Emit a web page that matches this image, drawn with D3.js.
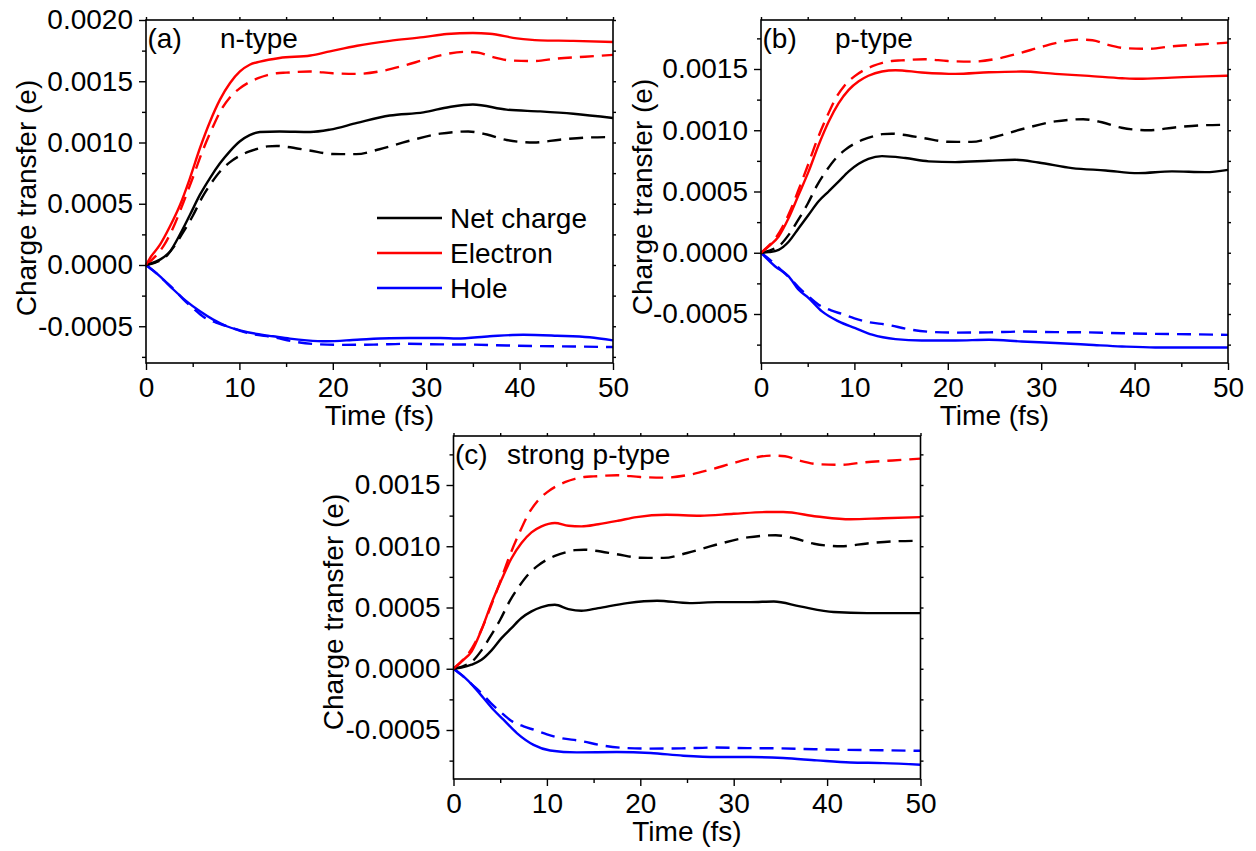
<!DOCTYPE html>
<html>
<head>
<meta charset="utf-8">
<script src="https://cdn.jsdelivr.net/npm/d3@7"></script>
<style>
  html, body { margin: 0; padding: 0; background: #fff; }
  svg { display: block; font-family: "Liberation Sans", Arial, sans-serif; }
</style>
</head>
<body>
<svg id="chart" width="1256" height="851"></svg>
<script>
// ---------- DATA (time in fs, charge transfer in e) ----------
const xMajorTicks = [0, 10, 20, 30, 40, 50];
const xMinorTicks = [5, 15, 25, 35, 45];
const yTicksA = [-0.0005, 0.0000, 0.0005, 0.0010, 0.0015, 0.0020];
const yMinorA = [-0.00075, -0.00025, 0.00025, 0.00075, 0.00125, 0.00175];
const yTicksBC = [-0.0005, 0.0000, 0.0005, 0.0010, 0.0015];
const yMinorBC = [-0.00075, -0.00025, 0.00025, 0.00075, 0.00125, 0.00175];
const legendNames = ["Net charge", "Electron", "Hole"];
const panelLabels = ["(a)", "(b)", "(c)"];
const panelTitles = ["n-type", "p-type", "strong p-type"];

// dashed reference curves (identical in all panels)
const refNet = [[0,0],[1,0.00002],[2,0.00006],[3,0.00015],[4,0.00027],[5,0.0004],[6,0.00055],[7,0.00067],[8,0.00077],[9,0.00084],[10,0.00089],[11,0.000925],[12,0.00095],[13,0.000968],[14,0.000972],[15,0.000965],[17.5,0.000935],[20,0.000906],[22.5,0.000905],[25,0.000945],[28,0.00101],[31.5,0.001072],[34.5,0.00109],[36.5,0.001065],[38.6,0.00102],[41.5,0.001],[44.3,0.001023],[47,0.00104],[50,0.001045]];
const refElectron = [[0,0],[1,0.00007],[2,0.00017],[3,0.00032],[4,0.00051],[5,0.00071],[6,0.00092],[7,0.0011],[8,0.00126],[9,0.00137],[10,0.00144],[11,0.00149],[12,0.001525],[13,0.00155],[14,0.001565],[15,0.00157],[17.5,0.00158],[20,0.001565],[22.5,0.00156],[25,0.00158],[27.5,0.001625],[30,0.00168],[32,0.00172],[34,0.00174],[35.5,0.001735],[37,0.0017],[39,0.00167],[41.5,0.001665],[44,0.001685],[47,0.0017],[50,0.001715]];
const refHole = [[0,0],[1,-0.00006],[2,-0.00013],[3,-0.0002],[4,-0.00028],[5,-0.00035],[6.17,-0.000424],[7.5,-0.00047],[8.67,-0.0005],[10,-0.000535],[11.2,-0.000561],[13.7,-0.00059],[15.8,-0.000625],[18,-0.000645],[20.8,-0.000652],[24.4,-0.00065],[27.9,-0.000643],[31.5,-0.000648],[35.1,-0.00065],[38.65,-0.000657],[42.2,-0.000662],[45.8,-0.000665],[50,-0.00067]];

// (a) n-type, solid
const aNet = [[0,0],[0.43,0.00001],[1.5,0.000044],[2.57,0.00011],[3.64,0.00025],[4.71,0.00041],[5.78,0.000574],[6.85,0.00071],[7.92,0.00083],[9,0.00093],[10.06,0.00101],[11.1,0.00106],[12.2,0.001086],[14.3,0.00109],[17.6,0.001086],[19.7,0.001105],[22.6,0.00116],[26.1,0.00122],[29.7,0.001246],[32.5,0.00129],[35,0.00131],[38.6,0.001268],[42.2,0.001254],[45.75,0.001235],[50,0.0012]];
const aElectron = [[0,0],[0.43,0.000057],[1.5,0.000166],[2.57,0.000316],[3.64,0.00049],[4.71,0.00071],[5.78,0.000955],[6.85,0.00117],[7.92,0.00135],[9,0.001486],[10.06,0.00158],[11.1,0.001635],[12.2,0.00166],[14.3,0.00169],[17.6,0.00171],[19.7,0.001744],[22.6,0.00179],[26.1,0.00183],[29.7,0.00186],[32.2,0.001886],[35,0.001894],[36.8,0.001888],[39.7,0.00185],[42.2,0.001834],[45.75,0.00183],[50,0.00182]];
const aHole = [[0,0],[1.5,-0.0000925],[2.93,-0.0002],[4.35,-0.000297],[5.78,-0.000378],[7.2,-0.000446],[8.64,-0.0005],[10.06,-0.000533],[11.85,-0.000563],[13.6,-0.000582],[15.4,-0.000601],[17.2,-0.000615],[19.3,-0.000623],[22.6,-0.00061],[26.1,-0.000598],[29,-0.000596],[31.5,-0.000596],[33.3,-0.0006],[36.8,-0.000582],[40.4,-0.000569],[44,-0.000577],[47.5,-0.00059],[50,-0.000615]];

// (b) p-type, solid
const bNet = [[0,0],[0.82,0.000005],[1.89,0.000024],[2.96,0.00009],[4.03,0.0002],[5.1,0.00031],[6.17,0.00042],[7.24,0.0005],[8.3,0.00058],[9.39,0.000664],[10.46,0.000726],[11.5,0.000767],[12.95,0.000789],[15.45,0.000773],[17.95,0.000746],[20.8,0.00074],[24.4,0.000751],[27.2,0.000759],[29.7,0.000737],[33.3,0.000691],[36.9,0.000672],[40.4,0.00065],[44,0.000664],[47.6,0.000658],[50,0.000677]];
const bElectron = [[0,0],[0.82,0.000052],[1.89,0.000133],[2.96,0.000283],[4.03,0.000473],[5.1,0.000664],[6.17,0.00088],[7.24,0.00107],[8.3,0.00122],[9.39,0.00133],[10.46,0.0014],[11.5,0.001445],[12.95,0.00148],[14.4,0.00149],[17.2,0.001472],[20.8,0.00146],[24.4,0.001473],[27.9,0.001479],[31.5,0.00146],[35.1,0.001444],[38.65,0.001425],[40.4,0.00142],[44,0.00143],[47.6,0.00144],[50,0.001445]];
const bHole = [[0,0],[1.53,-0.000112],[2.96,-0.000193],[4.03,-0.000302],[5.1,-0.00037],[6.53,-0.000479],[8.3,-0.00056],[10.1,-0.000615],[11.9,-0.000669],[14.4,-0.000705],[17.2,-0.000716],[20.8,-0.000716],[24.4,-0.00071],[27.9,-0.000724],[31.5,-0.000737],[35.1,-0.000751],[38.65,-0.000765],[42.2,-0.000773],[45.8,-0.000773],[50,-0.000773]];

// (c) strong p-type, solid
const cNet = [[0,0],[0.86,0.00001],[1.93,0.000033],[3,0.000073],[4.07,0.00015],[5.14,0.00025],[6.2,0.000332],[7.28,0.000414],[8.35,0.000468],[9.42,0.000503],[10.85,0.000522],[12.3,0.000487],[13.7,0.000473],[15.5,0.000495],[18.6,0.000536],[21.8,0.000555],[25.3,0.000536],[28.2,0.000544],[31.8,0.000544],[34.3,0.000549],[37.1,0.000509],[40.7,0.000463],[44.3,0.000454],[50,0.000454]];
const cElectron = [[0,0],[0.86,0.00006],[1.93,0.00014],[3,0.000318],[4.07,0.000536],[5.14,0.000727],[6.2,0.0009],[7.28,0.001026],[8.35,0.001113],[9.42,0.001162],[10.85,0.00119],[12.3,0.001167],[13.7,0.001162],[15.5,0.00118],[17.6,0.001208],[19.6,0.001238],[22.8,0.001257],[26.4,0.001249],[30,0.001265],[33.5,0.001279],[35.3,0.001279],[38.9,0.001243],[42.5,0.00122],[46,0.001229],[50,0.001238]];
const cHole = [[0,0],[1.07,-0.000063],[2.14,-0.000144],[3.21,-0.000239],[4.28,-0.000335],[5.35,-0.000416],[6.78,-0.000525],[8.57,-0.000621],[10.35,-0.000667],[13.2,-0.000683],[17.5,-0.00068],[21.1,-0.000688],[24.6,-0.00071],[28.2,-0.000721],[31.8,-0.000721],[35.3,-0.000729],[38.9,-0.000748],[42.5,-0.000765],[46,-0.00077],[50,-0.000784]];

// ---------- LAYOUT ----------
const W = 467, H = 343;
const FS = 28;
const colors = { net: "#000000", electron: "#ff0000", hole: "#0000ff" };

const panels = [
  { left: 146, top: 20, yDomain: [-0.0008, 0.0020], yTicks: yTicksA, yMinor: yMinorA,
    net: aNet, electron: aElectron, hole: aHole, titleX: 220, ytitleX: 36, ytitleY: 198, legend: true },
  { left: 761, top: 20, yDomain: [-0.0009, 0.0019], yTicks: yTicksBC, yMinor: yMinorBC,
    net: bNet, electron: bElectron, hole: bHole, titleX: 835, ytitleX: 652, ytitleY: 197, legend: false },
  { left: 453.5, top: 436, yDomain: [-0.0009, 0.0019], yTicks: yTicksBC, yMinor: yMinorBC,
    net: cNet, electron: cElectron, hole: cHole, titleX: 507, ytitleX: 343, ytitleY: 612, legend: false }
];

const svg = d3.select("#chart");
svg.append("rect").attr("width", 1256).attr("height", 851).attr("fill", "#fff");

function styleAxis(g) {
  g.attr("font-family", null).attr("font-size", null);
  g.select(".domain").remove();
  g.selectAll(".tick line").attr("stroke", "#000").attr("stroke-width", 1.4);
  g.selectAll(".tick text").attr("fill", "#000").style("font-size", FS + "px");
}

panels.forEach((p, i) => {
  const x = d3.scaleLinear().domain([0, 50]).range([p.left, p.left + W]);
  const y = d3.scaleLinear().domain(p.yDomain).range([p.top + H, p.top]);
  const g = svg.append("g");

  const line = d3.line().x(d => x(d[0])).y(d => y(d[1])).curve(d3.curveMonotoneX);

  const series = [
    { data: refHole, color: colors.hole, dash: "14,8" },
    { data: refNet, color: colors.net, dash: "14,8" },
    { data: refElectron, color: colors.electron, dash: "14,8" },
    { data: p.hole, color: colors.hole, dash: null },
    { data: p.net, color: colors.net, dash: null },
    { data: p.electron, color: colors.electron, dash: null }
  ];
  series.forEach(s => {
    g.append("path").datum(s.data)
      .attr("d", line)
      .attr("fill", "none")
      .attr("stroke", s.color)
      .attr("stroke-width", 2.4)
      .attr("stroke-dasharray", s.dash)
      .attr("stroke-linejoin", "round");
  });

  // axes
  const bx = g.append("g").attr("transform", `translate(0,${p.top + H})`)
    .call(d3.axisBottom(x).tickValues(xMajorTicks).tickSize(7).tickSizeOuter(0).tickPadding(7).tickFormat(d => d));
  styleAxis(bx);
  const bxm = g.append("g").attr("transform", `translate(0,${p.top + H})`)
    .call(d3.axisBottom(x).tickValues(xMinorTicks).tickSize(4).tickSizeOuter(0).tickFormat(""));
  styleAxis(bxm);
  const tx = g.append("g").attr("transform", `translate(0,${p.top})`)
    .call(d3.axisTop(x).tickValues(xMajorTicks.concat(xMinorTicks)).tickSize(3).tickSizeOuter(0).tickFormat(""));
  styleAxis(tx);

  const ly = g.append("g").attr("transform", `translate(${p.left},0)`)
    .call(d3.axisLeft(y).tickValues(p.yTicks).tickSize(7).tickSizeOuter(0).tickPadding(6)
      .tickFormat(d => (Math.abs(d) < 1e-12 ? 0 : d).toFixed(4)));
  styleAxis(ly);
  const lym = g.append("g").attr("transform", `translate(${p.left},0)`)
    .call(d3.axisLeft(y).tickValues(p.yMinor).tickSize(4).tickSizeOuter(0).tickFormat(""));
  styleAxis(lym);
  const ry = g.append("g").attr("transform", `translate(${p.left + W},0)`)
    .call(d3.axisRight(y).tickValues(p.yTicks.concat(p.yMinor)).tickSize(3).tickSizeOuter(0).tickFormat(""));
  styleAxis(ry);

  // frame
  g.append("rect").attr("x", p.left).attr("y", p.top).attr("width", W).attr("height", H)
    .attr("fill", "none").attr("stroke", "#000").attr("stroke-width", 1.6);

  // titles
  g.append("text").attr("x", p.left + W / 2).attr("y", p.top + H + 62)
    .attr("text-anchor", "middle").style("font-size", FS + "px").text("Time (fs)");
  g.append("text").attr("transform", `translate(${p.ytitleX},${p.ytitleY}) rotate(-90)`)
    .attr("text-anchor", "middle").style("font-size", FS + "px").text("Charge transfer (e)");

  g.append("text").attr("x", p.left + 1.5).attr("y", p.top + 27.5)
    .style("font-size", FS + "px").text(panelLabels[i]);
  g.append("text").attr("x", p.titleX).attr("y", p.top + 27.5)
    .style("font-size", FS + "px").text(panelTitles[i]);

  if (p.legend) {
    const lc = [colors.net, colors.electron, colors.hole];
    legendNames.forEach((name, k) => {
      const ly0 = 218 + k * 35;
      g.append("line").attr("x1", 377).attr("x2", 442).attr("y1", ly0).attr("y2", ly0)
        .attr("stroke", lc[k]).attr("stroke-width", 2.4);
      g.append("text").attr("x", 450).attr("y", ly0 + 10)
        .style("font-size", FS + "px").text(name);
    });
  }
});
</script>
</body>
</html>
